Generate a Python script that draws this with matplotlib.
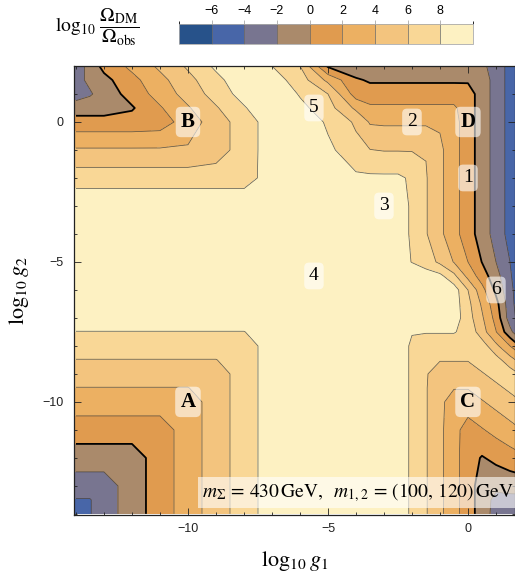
import numpy as np
import matplotlib
matplotlib.use("Agg")
import matplotlib.pyplot as plt
from matplotlib.colors import ListedColormap, BoundaryNorm
from matplotlib.cm import ScalarMappable
from matplotlib.ticker import MultipleLocator

plt.rcParams["mathtext.fontset"] = "stix"
plt.rcParams["font.family"] = ["Liberation Sans", "DejaVu Sans"]

# ── grid nodes (log10 g1 across, log10 g2 up) ───────────────────────────────
g1_nodes = [-14, -13.5, -13, -12, -11, -10, -9, -8, -7, -6, -5, -4, -3.5, -3,
            -2.5, -2, -1.5, -1, -0.5, 0, 0.5, 1, 1.5, 2]
g2_nodes = [-14, -13.5, -13, -12, -11, -10, -9.5, -9, -8.5, -8, -7.5, -7,
            -6.5, -6, -5.5, -5, -4, -3, -2, -1, 0, 0.5, 1, 1.5, 2]

# log10(Omega_DM / Omega_obs), one row per g2 node (bottom -> top)
log_omega = [
    [-5, -4.1, -3, -1, 1, 3, 5, 7, 9, 11, 12, 12, 11.3, 10.2, 9.0, 7.7, 6.15, 4.45, 2.7, 0.9, -0.93, -2.8, -3.0, -3.2],
    [-4.1, -4.1, -3, -1, 1, 3, 5, 7, 9, 11, 12, 12, 11.3, 10.2, 9.0, 7.7, 6.15, 4.45, 2.7, 0.9, -0.93, -2.6, -2.6, -2.6],
    [-3, -3, -3, -1, 1, 3, 5, 7, 9, 11, 12, 12, 11.3, 10.2, 9.0, 7.7, 6.15, 4.45, 2.7, 0.9, -0.93, -1.5, -1.25, -1.1],
    [-1, -1, -1, -1, 1, 3, 5, 7, 9, 11, 12, 12, 11.3, 10.2, 9.0, 7.7, 6.15, 4.45, 2.7, 0.9, -0.15, 0.5, 1.1, 1.7],
    [1, 1, 1, 1, 1, 3, 5, 7, 9, 11, 12, 12, 11.3, 10.2, 9.0, 7.7, 6.15, 4.45, 2.7, 1.1, 1.85, 2.6, 3.35, 4.1],
    [3, 3, 3, 3, 3, 3, 5, 7, 9, 11, 12, 12, 11.3, 10.2, 9.0, 7.7, 6.15, 4.45, 3.1, 3.1, 3.85, 4.6, 5.35, 6.1],
    [3.95, 3.95, 3.95, 3.95, 3.95, 3.95, 5, 7, 9, 11, 12, 12, 11.3, 10.2, 9.0, 7.7, 6.15, 4.45, 4.1, 4.1, 4.85, 5.6, 6.35, 7.1],
    [5, 5, 5, 5, 5, 5, 5, 7, 9, 11, 12, 12, 11.3, 10.2, 9.0, 7.7, 6.15, 5.1, 5.1, 5.1, 5.85, 6.6, 7.0, 5.5],
    [5.95, 5.95, 5.95, 5.95, 5.95, 5.95, 5.95, 7, 9, 11, 12, 12, 11.3, 10.2, 9.0, 7.7, 6.15, 6.1, 6.1, 6.1, 6.85, 6.8, 4.8, 2.8],
    [7, 7, 7, 7, 7, 7, 7, 7, 9, 11, 12, 12, 11.3, 10.2, 9.0, 7.7, 7.1, 7.1, 7.1, 7.1, 7.0, 4.5, 2.0, -0.9],
    [7.95, 7.95, 7.95, 7.95, 7.95, 7.95, 7.95, 7.95, 9, 11, 12, 12, 11.3, 10.2, 9.0, 8.1, 8.1, 8.1, 8.1, 7.5, 4.9, 2.1, -1.4, -4.8],
    [9, 9, 9, 9, 9, 9, 9, 9, 9, 11, 12, 12, 11.3, 10.2, 9.1, 9.1, 9.1, 9.1, 9.0, 6.9, 4.3, 1.3, -3.0, -5.5],
    [10, 10, 10, 10, 10, 10, 10, 10, 10, 11, 12, 12, 12, 12, 11.5, 11, 10.5, 10, 9.0, 6.6, 3.7, 0.7, -3.2, -6.0],
    [11, 11, 11, 11, 11, 11, 11, 11, 11, 11, 12, 12, 12, 12, 11.5, 11, 10.5, 10, 9.0, 6.0, 2.7, -0.5, -3.4, -6.0],
    [12, 12, 12, 12, 12, 12, 12, 12, 12, 12, 12, 12, 12, 12, 11, 10, 9.0, 8.5, 6.5, 3.4, 1.0, -1.25, -3.75, -6.0],
    [12, 12, 12, 12, 12, 12, 12, 12, 12, 12, 12, 12, 12, 10.5, 9.3, 7.9, 7.0, 5.6, 3.9, 2.0, -0.05, -2.0, -4.0, -6.0],
    [11, 11, 11, 11, 11, 11, 11, 11, 11, 11, 11, 11, 11, 10.2, 9.0, 7.7, 6.15, 4.45, 2.7, 0.9, -0.93, -2.8, -4.7, -6.6],
    [9.5, 9.5, 9.5, 9.5, 9.5, 9.5, 9.5, 9.5, 9.5, 10.5, 10.5, 10.5, 10.5, 10.2, 9.0, 7.7, 6.15, 4.45, 2.7, 0.9, -0.93, -2.8, -4.7, -6.6],
    [7.08, 7.08, 7.08, 7.08, 7.08, 7.08, 7.08, 7.08, 9.0, 11, 9.5, 8.4, 8.35, 8.35, 8.35, 7.7, 6.15, 4.45, 2.7, 0.9, -0.93, -2.8, -4.7, -6.6],
    [4.23, 4.23, 4.23, 4.23, 4.23, 4.23, 5.0, 7.0, 9.0, 10.5, 8.5, 6.6, 6.05, 5.9, 5.9, 5.9, 5.9, 4.45, 2.7, 0.9, -0.93, -2.8, -4.7, -6.6],
    [0.8, 0.8, 0.8, 0.8, 1.0, 3.0, 5.0, 7.0, 9.0, 10, 7.6, 5.7, 3.8, 3.7, 3.7, 3.7, 3.7, 3.7, 2.7, 0.9, -0.93, -2.8, -4.7, -6.6],
    [-1.0, -1.0, -1.0, -0.2, 1.8, 3.8, 5.8, 7.8, 9.8, 8.6, 6.8, 3.6, 2.35, 2.32, 2.32, 2.32, 2.32, 2.32, 2.32, 0.9, -0.93, -2.8, -4.7, -6.6],
    [-2.9, -2.2, -1.2, 0.8, 2.8, 4.8, 6.8, 8.8, 10, 7.8, 6.0, 1.1, 1.0, 1.0, 1.0, 1.0, 1.0, 1.0, 1.0, 0.9, -0.93, -2.8, -4.7, -6.6],
    [-2.6, -1.6, -0.6, 1.4, 3.4, 5.4, 7.4, 9.4, 9, 7, 3.5, 0.3, -0.27, -0.27, -0.27, -0.27, -0.27, -0.27, -0.27, -0.27, -0.93, -2.8, -4.7, -6.6],
    [-3.3, -1.2, 0.6, 2.5, 4.4, 6.3, 8.4, 10, 8, 6, -0.3, -1.6, -1.6, -1.6, -1.6, -1.6, -1.6, -1.6, -1.6, -1.6, -1.6, -2.8, -4.7, -6.6],
]

levels = [-8, -6, -4, -2, 0, 2, 4, 6, 8, 14]
band_colours = ["#27528a", "#4866a8", "#787590", "#aa8a6b", "#e09b4f",
                "#ecb062", "#f3c47e", "#f9d796", "#fdf1c2"]
cbar_ticks = [-6, -4, -2, 0, 2, 4, 6, 8]

# benchmark labels
region_names = ["A", "B", "C", "D"]
region_g1 = [-10, -10, 0, 0]
region_g2 = [-10, 0, -10, 0]
point_names = ["1", "2", "3", "4", "5", "6"]
point_g1 = [0, -2, -3, -5.5, -5.5, 1]
point_g2 = [-2, 0, -3, -5.5, 0.5, -6]

W, H = 515, 583
fig = plt.figure(figsize=(W / 100, H / 100), dpi=100)
ax = fig.add_axes([74 / W, 1 - 515 / H, 441 / W, 449 / H])

Z = np.array(log_omega)
ax.contourf(g1_nodes, g2_nodes, Z, levels=levels, colors=band_colours)
thin = [lv for lv in levels[1:-1] if lv != 0]
ax.contour(g1_nodes, g2_nodes, Z, levels=thin, colors="#3d3a36",
           linewidths=0.55, alpha=0.8, linestyles="solid")
ax.contour(g1_nodes, g2_nodes, Z, levels=[0], colors="black", linewidths=1.3,
           linestyles="solid")

ax.set_xlim(-14.07, 1.68)
ax.set_ylim(-14.04, 2.0)
ax.set_xticks([-10, -5, 0])
ax.set_yticks([-10, -5, 0])
ax.xaxis.set_minor_locator(MultipleLocator(1))
ax.yaxis.set_minor_locator(MultipleLocator(1))
ax.tick_params(which="both", direction="in", top=True, right=True,
               width=0.6, labelsize=9, colors="#222222")
ax.tick_params(which="major", length=5)
ax.tick_params(which="minor", length=2.5)
ax.tick_params(axis="x", pad=5.5)
ax.tick_params(axis="y", pad=7.5)
for s in ax.spines.values():
    s.set_linewidth(0.9)
    s.set_color("#222222")

ax.set_xlabel(r"$\log_{10} g_1$", fontsize=16, labelpad=10)
ax.set_ylabel(r"$\log_{10} g_2$", fontsize=16, labelpad=8)

box = dict(boxstyle="round,pad=0.25", fc="white", ec="none", alpha=0.6)
for name, gx, gy in zip(region_names, region_g1, region_g2):
    ax.text(gx, gy, name, family="Liberation Serif", fontsize=15,
            fontweight="bold", ha="center", va="center", bbox=box)
for name, gx, gy in zip(point_names, point_g1, point_g2):
    ax.text(gx, gy, name, family="Liberation Serif", fontsize=14,
            ha="center", va="center", bbox=box)

ax.text(0.997, 0.025,
        r"$m_\Sigma\, =\, 430\,\mathrm{GeV},\;\ m_{1,2}\, =\, (100,\,120)\,\mathrm{GeV}$",
        transform=ax.transAxes, ha="right", va="bottom", fontsize=14,
        bbox=dict(boxstyle="square,pad=0.2", fc="white", ec="none", alpha=0.6))

# ── colour bar on top ───────────────────────────────────────────────────────
cax = fig.add_axes([179 / W, 1 - 44 / H, 294 / W, 20 / H])
cmap = ListedColormap(band_colours)
norm = BoundaryNorm(levels, cmap.N)
cb = fig.colorbar(ScalarMappable(norm=norm, cmap=cmap), cax=cax,
                  orientation="horizontal", ticks=cbar_ticks, drawedges=True)
cb.ax.xaxis.set_ticks_position("top")
cb.ax.tick_params(length=3, width=0.5, color="#999999", labelsize=9, pad=2)
cb.outline.set_edgecolor("#aaaaaa")
cb.outline.set_linewidth(0.6)
cb.dividers.set_color("#666666")
cb.dividers.set_linewidth(0.5)

fig.text(55 / W, 1 - 27 / H,
         r"$\log_{10}\,\dfrac{\Omega_{\mathrm{DM}}}{\Omega_{\mathrm{obs}}}$",
         fontsize=14, ha="left", va="center")

fig.savefig("out.png", dpi=100)
